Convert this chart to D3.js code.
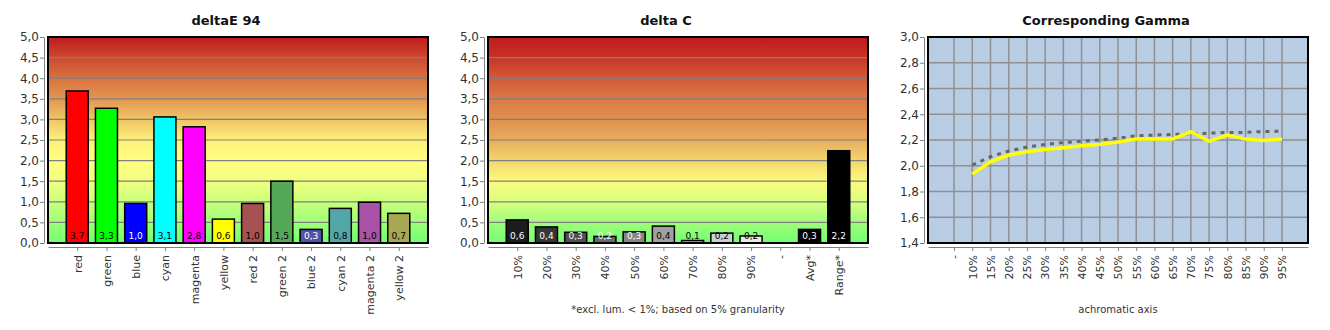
<!DOCTYPE html>
<html><head><meta charset="utf-8">
<script src="https://cdn.jsdelivr.net/npm/d3@7"></script>
<style>
body{margin:0;background:#fff;}
text{font-family:"DejaVu Sans",sans-serif;}
</style></head>
<body><svg id="c" width="1330" height="330"></svg>
<script>
// ---------- data ----------
const deltaECategories = ["red","green","blue","cyan","magenta","yellow","red 2","green 2","blue 2","cyan 2","magenta 2","yellow 2"];
const deltaEValues = [3.69,3.27,0.96,3.06,2.82,0.58,0.96,1.50,0.33,0.84,0.99,0.72];
const deltaEColors = ["#ff0000","#00ff00","#0000ff","#00ffff","#ff00ff","#ffff00","#a65252","#55a855","#5252a8","#52a8a8","#a852a8","#a8a852"];
const deltaELabelColors = ["#000","#000","#fff","#000","#000","#000","#000","#000","#fff","#000","#000","#000"];

const deltaCCategories = ["10%","20%","30%","40%","50%","60%","70%","80%","90%","-","Avg*","Range*"];
const deltaCValues = [0.56,0.39,0.26,0.16,0.27,0.41,0.06,0.24,0.17,null,0.33,2.24];
const deltaCColors = ["#1c1c1c","#363636","#505050","#6a6a6a","#868686","#a0a0a0","#bababa","#d0d0d0","#e8e8e8",null,"#000000","#000000"];
const deltaCLabelColors = ["#fff","#fff","#fff","#fff","#fff","#000","#000","#000","#000","#000","#fff","#fff"];

const deltaTicks = [0,0.5,1,1.5,2,2.5,3,3.5,4,4.5,5];

const gammaCategories = ["-","10%","15%","20%","25%","30%","35%","40%","45%","50%","55%","60%","65%","70%","75%","80%","85%","90%","95%"];
const gammaMeasured = [null,1.935,2.03,2.083,2.108,2.127,2.14,2.155,2.166,2.184,2.207,2.207,2.207,2.264,2.19,2.238,2.207,2.197,2.207];
const gammaReference = [null,2.005,2.07,2.114,2.145,2.166,2.18,2.19,2.2,2.215,2.232,2.238,2.243,2.248,2.253,2.259,2.259,2.266,2.269];
const gammaTicks = [1.4,1.6,1.8,2.0,2.2,2.4,2.6,2.8,3.0];

const gradE = [[0,"#70ff70"],[0.1,"#a0ff78"],[0.2,"#c8ff7c"],[0.3,"#f2ff80"],[0.4,"#ffff80"],[0.5,"#fdf07a"],[0.6,"#efc466"],[0.7,"#e39652"],[0.8,"#d87240"],[0.9,"#cc4a30"],[1,"#be1a1c"]];
const gradC = [[0,"#70ff70"],[0.1,"#a2fc7a"],[0.2,"#d8ff80"],[0.3,"#fcfa7e"],[0.4,"#f3d66c"],[0.5,"#e8ac5e"],[0.6,"#e09050"],[0.7,"#da7a45"],[0.8,"#d25a38"],[0.9,"#c83425"],[1,"#be1a1c"]];

// ---------- layout ----------
const svg = d3.select("#c");
const PW = 380, PT = 37, PB = 243;
const fmt = v => d3.format(".1f")(v).replace(".", ",");
const defs = svg.append("defs");

function makeGrad(id, stops){
  const g = defs.append("linearGradient").attr("id", id).attr("x1",0).attr("y1",1).attr("x2",0).attr("y2",0);
  stops.forEach(s => g.append("stop").attr("offset", s[0]).attr("stop-color", s[1]));
}
makeGrad("gE", gradE);
makeGrad("gC", gradC);

function axes(g, x, y, ticks, x0){
  const ya = g.append("g").attr("transform", `translate(${x0-4},0)`)
    .call(d3.axisLeft(y).tickValues(ticks).tickSize(4).tickSizeOuter(0).tickFormat(fmt));
  ya.select(".domain").attr("stroke","#808080");
  ya.selectAll(".tick line").attr("stroke","#808080");
  ya.selectAll("text").attr("font-size",12).attr("fill","#333").attr("x",-5);
  const xa = g.append("g").attr("transform", `translate(0,${PB+4})`)
    .call(d3.axisBottom(x).tickSize(4).tickSizeOuter(0));
  xa.select(".domain").attr("stroke","#808080");
  xa.selectAll(".tick line").attr("stroke","#808080");
  xa.selectAll("text").attr("font-size",11).attr("fill","#333")
    .attr("transform","rotate(-90)").attr("x",-8).attr("y",0).attr("dy","0.35em")
    .attr("text-anchor","end");
}

function barChart(off, title, cats, vals, colors, labelColors, gradId, note){
  const g = svg.append("g");
  const x0 = off + 48;
  const x = d3.scalePoint().domain(cats).range([x0, x0+PW]).padding(1);
  const y = d3.scaleLinear().domain([0,5]).range([PB, PT]);
  g.append("text").attr("x", off+226).attr("y", 25).attr("text-anchor","middle")
    .attr("font-size",13).attr("font-weight","bold").attr("fill","#111").text(title);
  g.append("rect").attr("x",x0).attr("y",PT).attr("width",PW).attr("height",PB-PT).attr("fill",`url(#${gradId})`);
  g.selectAll(".gl").data(deltaTicks.filter(t=>t>0 && t<5)).join("line")
    .attr("x1",x0).attr("x2",x0+PW).attr("y1",d=>y(d)).attr("y2",d=>y(d))
    .attr("stroke","#808080").attr("stroke-width",1.2);
  const data = cats.map((c,i)=>({c, v:vals[i], col:colors[i], lc:labelColors[i]})).filter(d=>d.v!=null);
  const bw = 22;
  g.selectAll(".bar").data(data).join("rect")
    .attr("x",d=>x(d.c)-bw/2).attr("y",d=>y(d.v)).attr("width",bw).attr("height",d=>y(0)-y(d.v))
    .attr("fill",d=>d.col).attr("stroke","#000").attr("stroke-width",1.5);
  g.selectAll(".lbl").data(data).join("text")
    .attr("x",d=>x(d.c)).attr("y",239).attr("text-anchor","middle")
    .attr("font-size",9).attr("fill",d=>d.lc).text(d=>fmt(d.v));
  g.append("rect").attr("x",x0).attr("y",PT).attr("width",PW).attr("height",PB-PT)
    .attr("fill","none").attr("stroke","#000").attr("stroke-width",2);
  axes(g, x, y, deltaTicks, x0);
  if(note) g.append("text").attr("x",x0+PW/2).attr("y",313).attr("text-anchor","middle")
    .attr("font-size",10).attr("fill","#333").text(note);
}

barChart(0, "deltaE 94", deltaECategories, deltaEValues, deltaEColors, deltaELabelColors, "gE", null);
barChart(440, "delta C", deltaCCategories, deltaCValues, deltaCColors, deltaCLabelColors, "gC", "*excl. lum. < 1%; based on 5% granularity");

// gamma chart
(function(){
  const off = 880, x0 = off+48;
  const g = svg.append("g");
  const x = d3.scalePoint().domain(gammaCategories).range([x0, x0+PW]).padding(1.43);
  const y = d3.scaleLinear().domain([1.4,3.0]).range([PB, PT]);
  g.append("text").attr("x", off+226).attr("y", 25).attr("text-anchor","middle")
    .attr("font-size",13).attr("font-weight","bold").attr("fill","#111").text("Corresponding Gamma");
  g.append("rect").attr("x",x0).attr("y",PT).attr("width",PW).attr("height",PB-PT).attr("fill","#b8cce4");
  g.selectAll(".gh").data(gammaTicks.slice(1,-1)).join("line")
    .attr("x1",x0).attr("x2",x0+PW).attr("y1",d=>y(d)).attr("y2",d=>y(d))
    .attr("stroke","#909090").attr("stroke-width",1.5);
  g.selectAll(".gv").data(gammaCategories).join("line")
    .attr("x1",d=>x(d)).attr("x2",d=>x(d)).attr("y1",PT).attr("y2",PB)
    .attr("stroke","#909090").attr("stroke-width",1.5);
  const line = d3.line().defined(d=>d.v!=null).x(d=>x(d.c)).y(d=>y(d.v));
  g.append("path").datum(gammaCategories.map((c,i)=>({c,v:gammaReference[i]})))
    .attr("d",line).attr("fill","none").attr("stroke","#666").attr("stroke-width",3).attr("stroke-dasharray","4,5");
  g.append("path").datum(gammaCategories.map((c,i)=>({c,v:gammaMeasured[i]})))
    .attr("d",line).attr("fill","none").attr("stroke","#ffff00").attr("stroke-width",3.5);
  g.append("rect").attr("x",x0).attr("y",PT).attr("width",PW).attr("height",PB-PT)
    .attr("fill","none").attr("stroke","#000").attr("stroke-width",2);
  axes(g, x, y, gammaTicks, x0);
  g.append("text").attr("x",x0+PW/2).attr("y",313).attr("text-anchor","middle")
    .attr("font-size",10).attr("fill","#333").text("achromatic axis");
})();
</script></body></html>
